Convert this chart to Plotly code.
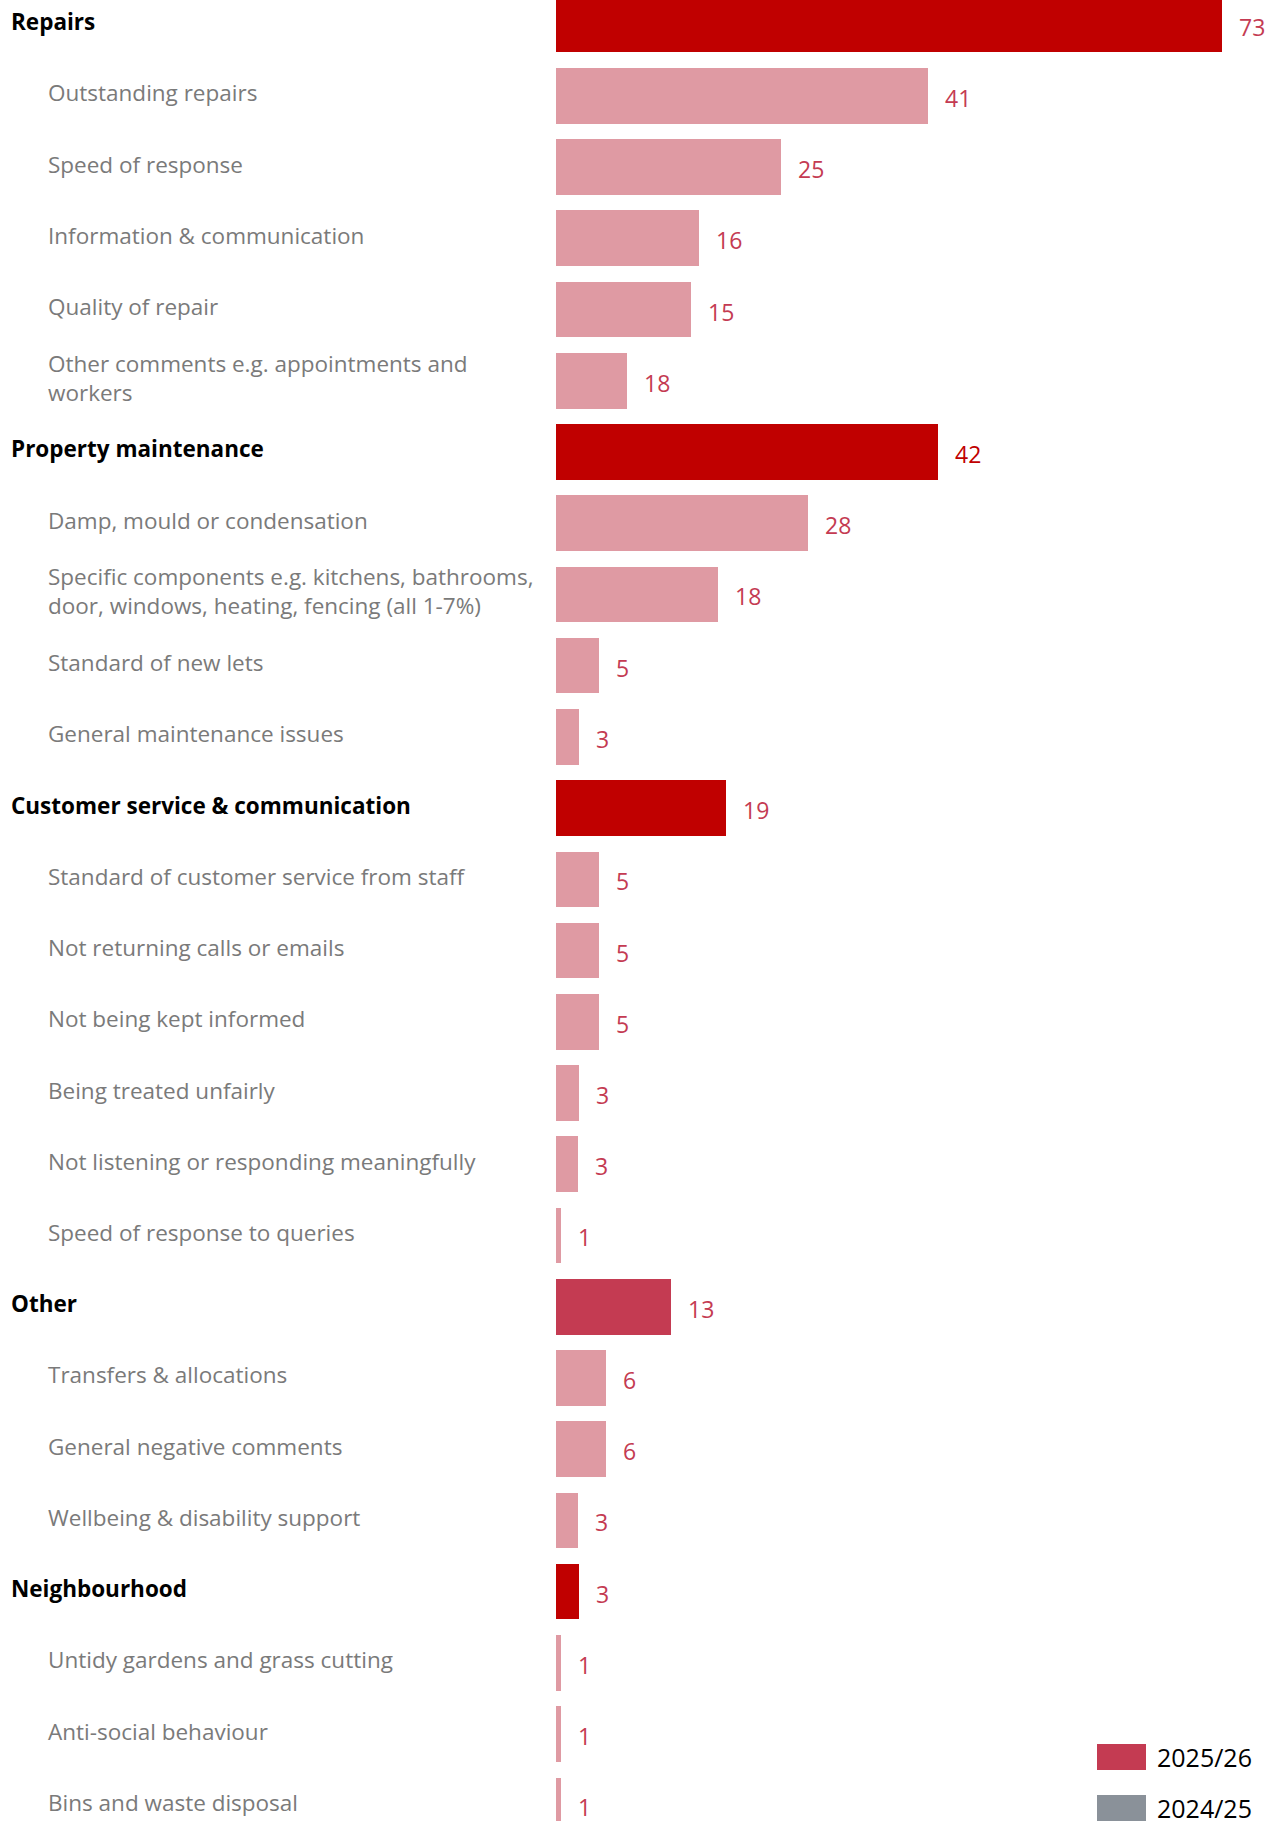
import plotly.graph_objects as go

# ---------------- data ----------------
categories = [
    "Repairs", "Outstanding repairs", "Speed of response", "Information & communication",
    "Quality of repair", "Other comments e.g. appointments and<br>workers",
    "Property maintenance", "Damp, mould or condensation",
    "Specific components e.g. kitchens, bathrooms,<br>door, windows, heating, fencing (all 1-7%)",
    "Standard of new lets", "General maintenance issues",
    "Customer service & communication", "Standard of customer service from staff",
    "Not returning calls or emails", "Not being kept informed", "Being treated unfairly",
    "Not listening or responding meaningfully", "Speed of response to queries",
    "Other", "Transfers & allocations", "General negative comments",
    "Wellbeing & disability support",
    "Neighbourhood", "Untidy gardens and grass cutting", "Anti-social behaviour",
    "Bins and waste disposal",
]
is_header = [1, 0, 0, 0, 0, 0,
             1, 0, 0, 0, 0,
             1, 0, 0, 0, 0, 0, 0,
             1, 0, 0, 0,
             1, 0, 0, 0]
# bar lengths as drawn (2025/26)
values_2025 = [73, 40.8, 24.7, 15.7, 14.8, 7.8,
               41.9, 27.6, 17.8, 4.7, 2.5,
               18.6, 4.7, 4.7, 4.7, 2.5, 2.4, 0.55,
               12.6, 5.5, 5.5, 2.4,
               2.5, 0.55, 0.55, 0.55]
# value labels as printed
value_labels = ["73", "41", "25", "16", "15", "18",
                "42", "28", "18", "5", "3",
                "19", "5", "5", "5", "3", "3", "1",
                "13", "6", "6", "3",
                "3", "1", "1", "1"]
legend_names = ["2025/26", "2024/25"]

# ---------------- styling ----------------
W, H = 1282, 1821
DARK = "#C00000"
OTHER_HDR = "#C43B52"
PINK = "#DF9AA3"
LABEL_RED = "#C43B52"
GREY_TXT = "#7a7a7a"
LEG_COLORS = ["#C43B52", "#8A9199"]
FONT = "Open Sans"

bar_colors = []
for c, h in zip(categories, is_header):
    if h:
        bar_colors.append(OTHER_HDR if c == "Other" else DARK)
    else:
        bar_colors.append(PINK)

ids = [f"c{i}" for i in range(len(categories))]

fig = go.Figure()
fig.add_trace(go.Bar(
    x=values_2025, y=ids, orientation="h",
    marker=dict(color=bar_colors, line=dict(width=0)),
    width=0.78, showlegend=False, hoverinfo="x+y",
))

annotations = []
x_left_px = 556.2
px_per_unit = 9.115
for i, (cid, cat, h, v, lab) in enumerate(zip(ids, categories, is_header, values_2025, value_labels)):
    annotations.append(dict(
        x=(9 if h else 45.5) / W, xref="paper", xanchor="left",
        y=cid, yref="y", yanchor="middle", yshift=3,
        text=f"<b>{cat}</b>" if h else cat, showarrow=False, align="left",
        font=dict(family=FONT, size=22.5,
                  color="#000000" if h else GREY_TXT),
    ))
    annotations.append(dict(
        x=v, xref="x", xanchor="left", xshift=15,
        y=cid, yref="y", yanchor="middle", yshift=-2,
        text=lab, showarrow=False,
        font=dict(family=FONT, size=23,
                  color=DARK if lab == "42" and h else LABEL_RED),
    ))

# manual legend
shapes = []
leg_rows = [(1744, 1770, 1757), (1795, 1822, 1808)]
for (t, b, c), name, col in zip(leg_rows, legend_names, LEG_COLORS):
    shapes.append(dict(type="rect", xref="paper", yref="paper",
                       x0=1097 / W, x1=1146 / W, y0=1 - b / H, y1=1 - t / H,
                       fillcolor=col, line=dict(width=0)))
    annotations.append(dict(x=1155 / W, xref="paper", xanchor="left",
                            y=1 - c / H, yref="paper", yanchor="middle",
                            text=name, showarrow=False,
                            font=dict(family=FONT, size=25, color="#000000")))

fig.update_layout(
    width=W, height=H,
    margin=dict(l=0, r=0, t=0, b=0, pad=0),
    paper_bgcolor="white", plot_bgcolor="white",
    xaxis=dict(range=[-x_left_px / px_per_unit, (W - x_left_px) / px_per_unit],
               visible=False, showgrid=False, zeroline=False, fixedrange=True),
    yaxis=dict(type="category", categoryorder="array", categoryarray=ids,
               range=[25.22, -0.345], visible=False, showgrid=False,
               zeroline=False, fixedrange=True),
    annotations=annotations, shapes=shapes,
    showlegend=False, bargap=0,
    font=dict(family=FONT),
)

fig.write_html("out.html", config={"displayModeBar": False})
